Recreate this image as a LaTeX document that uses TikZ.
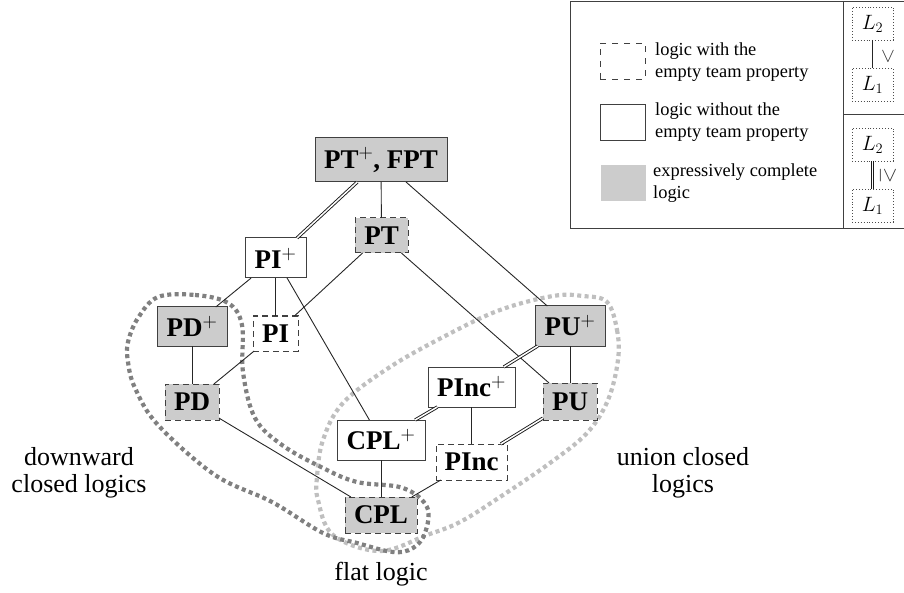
\documentclass[tikz,border=0pt]{standalone}
\usepackage{fontspec}
\setmainfont{Liberation Serif}
\tikzset{
  base/.style={draw=black!75,line width=1pt,inner sep=0,outer sep=0,font=\fontsize{27}{27}\selectfont\bfseries,text=black},
  solidbox/.style={base,fill=white},
  dashbox/.style={base,fill=white,dash pattern=on 6pt off 4pt},
  fullbox/.style={base,fill=gray!40},
  fulldash/.style={base,fill=gray!40,dash pattern=on 6pt off 4pt},
  conn/.style={draw=black!85,line width=0.9pt},
  dbl/.style={draw=black!90,double=white,double distance=1.5pt,line width=0.9pt},
  mini/.style={draw=black!70,dotted,line width=0.9pt,inner sep=0,outer sep=0,font=\fontsize{21}{21}\selectfont},
  lab/.style={font=\fontsize{26}{26.5}\selectfont,align=center,inner sep=0},
  leg/.style={font=\fontsize{18.4}{22}\selectfont,align=left,anchor=west,inner sep=0},
  frame/.style={draw=black!75,line width=0.9pt},
  blobd/.style={draw=black!50,line width=4.2pt,dash pattern=on 4pt off 3.4pt},
  blobl/.style={draw=black!25,line width=4.2pt,dash pattern=on 4pt off 3.4pt},
  rel/.style={font=\fontsize{21}{21}\selectfont,rotate=-90,inner sep=0,text=black!80},
}
\newcommand{\pl}{$^{\mathchoice{+}{+}{\scalebox{1.15}{$\scriptstyle+$}}{+}}$}
\newcommand{\bx}[7]{\node[#1,minimum width=#5pt-#3pt,minimum height=#6pt-#4pt] (#2) at ({(#3+#5)/2},{(#4+#6)/2}) {#7};}
\begin{document}
\begin{tikzpicture}[x=1pt,y=-1pt]
\useasboundingbox (0,0) rectangle (904,593);
% blobs
\draw[blobl] plot[smooth cycle,tension=0.6] coordinates {(607,302) (617,330) (618,360) (608,400) (587,433) (550,463) (500,497) (460,522) (427,535) (380,551) (333,535) (318,500) (317,477) (323,440) (343,403) (390,367) (447,335) (500,310) (553,296) (583,296)};
\draw[blobd] plot[smooth cycle,tension=0.6] coordinates {(158,297) (195,295) (228,303) (242,325) (243,372) (255,418) (282,445) (323,468) (357,482) (403,488) (427,507) (425,533) (413,548) (393,552) (357,543) (323,533) (272,502) (215,475) (158,425) (135,388) (128,362) (128,342) (138,318)};
% nodes
\bx{fullbox}{ptp}{315}{138}{447}{182}{PT\pl, FPT}
\bx{solidbox}{pip}{245}{238}{306}{278}{PI\pl}
\bx{fulldash}{pt}{355}{218}{408}{253}{PT}
\bx{fullbox}{pdp}{157}{307}{227}{346}{PD\pl}
\bx{dashbox}{pi}{253}{316}{298}{351}{PI}
\bx{fulldash}{pd}{165}{384}{219}{420}{PD}
\bx{fullbox}{pup}{535}{306}{605}{346}{PU\pl}
\bx{solidbox}{pincp}{428}{367}{515}{407}{PInc\pl}
\bx{fulldash}{pu}{543}{383}{597}{420}{PU}
\bx{solidbox}{cplp}{337}{420}{425}{460}{CPL\pl}
\bx{dashbox}{pinc}{436}{444}{507}{480}{PInc}
\bx{fulldash}{cpl}{345}{497}{417}{533}{CPL}
% connectors
\draw[dbl] (ptp) -- (pip);
\draw[conn] (ptp) -- (pt);
\draw[conn] (ptp) -- (pup);
\draw[conn] (pip) -- (pdp);
\draw[conn] (pip) -- (pi);
\draw[conn] (pip) -- (cplp);
\draw[conn] (pt) -- (pi);
\draw[conn] (pt) -- (pu);
\draw[conn] (pdp) -- (pd);
\draw[conn] (pi) -- (pd);
\draw[conn] (pd) -- (cpl);
\draw[conn] (pup) -- (pu);
\draw[dbl] (pup) -- (pincp);
\draw[dbl] (pincp) -- (cplp);
\draw[conn] (pincp) -- (pinc);
\draw[dbl] (pu) -- (pinc);
\draw[conn] (cplp) -- (cpl);
\draw[conn] (pinc) -- (cpl);
% labels
\node[lab] (ldown) at (79,473) {downward\\closed logics};
\node[lab] (lunion) at (683,473) {union closed\\logics};
\node[lab] (lflat) at (381,574) {flat logic};
% legend
\draw[frame] (904,1) -- (570,1) -- (570,228) -- (904,228);
\draw[frame] (843,1) -- (843,228);
\draw[frame] (843,114) -- (904,114);
\node[draw=black!75,line width=0.8pt,dash pattern=on 6pt off 6pt,inner sep=0,minimum width=45pt,minimum height=36pt] (k1) at (622.5,61) {};
\node[draw=black!75,line width=0.9pt,inner sep=0,minimum width=45pt,minimum height=36pt] (k2) at (622.5,122) {};
\node[fill=gray!40,inner sep=0,minimum width=45pt,minimum height=36pt] (k3) at (623.5,183) {};
\node[leg] (t1) at (655,62.5) {logic with the\\empty team property};
\node[leg] (t2) at (655,122) {logic without the\\empty team property};
\node[leg] (t3) at (653,183) {expressively complete\\logic};
\node[mini,minimum width=41pt,minimum height=33pt] (a2) at (872.5,23.5) {$L_2$};
\node[mini,minimum width=41pt,minimum height=33pt] (a1) at (872.5,85) {$L_1$};
\node[mini,minimum width=41pt,minimum height=33pt] (b2) at (872.5,144.5) {$L_2$};
\node[mini,minimum width=41pt,minimum height=33pt] (b1) at (872.5,205.5) {$L_1$};
\draw[conn] (a2) -- (a1);
\draw[dbl] (b2) -- (b1);
\node[rel] (r1) at (888,56) {$>$};
\node[rel] (r2) at (888,176) {$\geq$};
\end{tikzpicture}
\end{document}
